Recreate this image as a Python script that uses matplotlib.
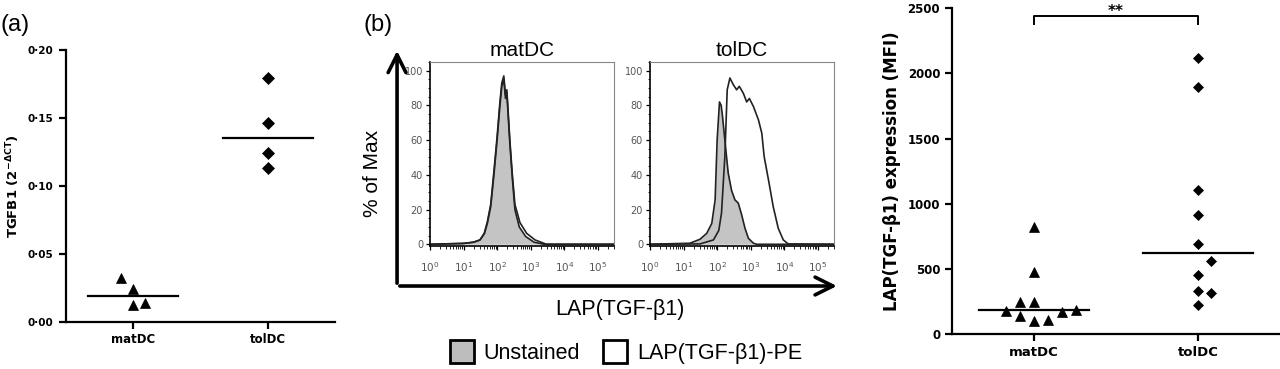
import numpy as np
import matplotlib.pyplot as plt
from matplotlib.patches import Patch, FancyArrowPatch
from matplotlib.ticker import MultipleLocator, LogLocator, NullFormatter

plt.rcParams['font.family'] = ['DejaVu Sans']
plt.rcParams['mathtext.fontset'] = 'dejavusans'

groups = ['matDC', 'tolDC']

# (a) TGFB1 mRNA (2^-dCT)
tgfb1_mat = [0.0326, 0.0243, 0.0123, 0.0142]
tgfb1_tol = [0.1796, 0.1465, 0.1240, 0.1134]
tgfb1_ticks = [0.00, 0.05, 0.10, 0.15, 0.20]
tgfb1_ticklabels = ['0·00', '0·05', '0·10', '0·15', '0·20']

# (b) flow histograms: log10 intensity vs % of max
mat_unst_x = [0.0, 1.0, 1.3, 1.49, 1.62, 1.71, 1.81, 1.91, 2.0, 2.08, 2.14, 2.2, 2.25, 2.29, 2.38, 2.45, 2.53, 2.66, 2.85, 3.1, 3.4, 5.5]
mat_unst_y = [0, 0.5, 1.2, 2.5, 6, 12, 21.7, 41, 60, 79, 91, 95, 84, 87, 58, 39, 20, 10, 4.5, 1.2, 0, 0]
mat_pe_x = [0.0, 1.0, 1.3, 1.49, 1.62, 1.71, 1.81, 1.91, 2.0, 2.08, 2.14, 2.2, 2.25, 2.29, 2.38, 2.45, 2.53, 2.68, 2.88, 3.13, 3.47, 5.5]
mat_pe_y = [0, 0.5, 1.2, 2.5, 6.5, 13, 23, 43, 62, 81, 93, 97, 86, 89, 60, 41, 23, 12.5, 6.3, 2.5, 0, 0]
tol_unst_x = [0.0, 1.19, 1.49, 1.69, 1.84, 1.94, 2.0, 2.07, 2.12, 2.16, 2.23, 2.33, 2.43, 2.53, 2.63, 2.73, 2.83, 2.93, 3.08, 3.18, 5.5]
tol_unst_y = [0, 0.6, 2.9, 6.3, 12, 25.6, 60, 82, 80, 73.7, 60, 41, 31, 25.6, 23.7, 17, 9.2, 3.5, 0.6, 0, 0]
tol_pe_x = [0.0, 1.49, 1.89, 2.05, 2.13, 2.23, 2.30, 2.38, 2.48, 2.58, 2.66, 2.78, 2.88, 2.96, 3.08, 3.23, 3.33, 3.40, 3.53, 3.67, 3.82, 3.97, 4.12, 5.5]
tol_pe_y = [0, 0.2, 2.5, 8, 18, 50.6, 89, 95.8, 92, 89, 91, 87, 82, 84, 79.4, 71.7, 64, 50.6, 37, 21.7, 9.2, 2.5, 0.2, 0]

# (c) LAP(TGF-b1) MFI
lap_mat = [818, 478, 243, 243, 174, 135, 102, 110, 169, 187]
lap_tol = [2122, 1899, 1107, 910, 693, 557, 455, 327, 314, 225]

# horizontal spread of the dots (as drawn)
tgfb1_mat_dx = [-0.087, 0, 0, 0.087]
tgfb1_tol_dx = [0, 0, 0, 0]
lap_mat_dx = [0, 0, -0.087, 0, -0.173, -0.087, 0, 0.085, 0.173, 0.254]
lap_tol_dx = [0, 0, 0, 0, 0, 0.081, 0, 0, 0.081, 0]

fig = plt.figure(figsize=(12.8, 3.69), dpi=100)


def dot_panel(ax, mat, tol, mat_dx, tol_dx, ms_tri, ms_dia):
    ax.plot(np.array(mat_dx), mat, '^', color='black', ms=ms_tri, mew=0.5, clip_on=False)
    ax.plot(1 + np.array(tol_dx), tol, 'D', color='black', ms=ms_dia, mew=0.5, clip_on=False)
    for i, vals in enumerate([mat, tol]):
        m = np.median(vals)
        ax.plot([i - 0.335, i + 0.335], [m, m], color='black', lw=1.6)
    ax.set_xlim(-0.5, 1.5)
    ax.set_xticks([0, 1])
    ax.set_xticklabels(groups, fontweight='bold')
    for s in ['top', 'right']:
        ax.spines[s].set_visible(False)
    for s in ['left', 'bottom']:
        ax.spines[s].set_linewidth(1.6)
    ax.tick_params(width=1.6, length=5)


# panel (a)
ax1 = fig.add_axes([0.0512, 0.1274, 0.2109, 0.737])
dot_panel(ax1, tgfb1_mat, tgfb1_tol, tgfb1_mat_dx, tgfb1_tol_dx, 7.5, 5.7)
ax1.set_ylim(0, 0.2)
ax1.set_yticks(tgfb1_ticks)
ax1.set_yticklabels(tgfb1_ticklabels, fontweight='bold', fontsize=7.5)
ax1.tick_params(axis='x', labelsize=8.5, pad=3)
ax1.set_ylabel(r'TGFB1 (2$^{\mathbf{-\Delta CT}}$)', fontweight='bold', fontsize=9.5, labelpad=4)
fig.text(0.0, 0.932, '(a)', fontsize=17, family='Liberation Sans', va='center')

# panel (b) histograms
hist_sets = [
    ('matDC', mat_unst_x, mat_unst_y, mat_pe_x, mat_pe_y, 0.3359),
    ('tolDC', tol_unst_x, tol_unst_y, tol_pe_x, tol_pe_y, 0.5078),
]
for title, ux, uy, px, py, left in hist_sets:
    ax = fig.add_axes([left, 0.3333, 0.14375, 0.4986])
    ax.fill_between(10 ** np.array(ux), uy, color='#c4c4c4', lw=0)
    ax.plot(10 ** np.array(ux), uy, color='#222222', lw=1.2)
    ax.plot(10 ** np.array(px), py, color='#222222', lw=1.2)
    ax.set_xscale('log')
    ax.set_xlim(1, 10 ** 5.48)
    ax.set_ylim(-1, 105)
    ax.set_xticks([10 ** k for k in range(6)])
    ax.set_xticklabels([r'$10^{%d}$' % k for k in range(6)])
    ax.xaxis.set_minor_locator(LogLocator(base=10, subs=np.arange(2, 10), numticks=20))
    ax.xaxis.set_minor_formatter(NullFormatter())
    ax.set_yticks([0, 20, 40, 60, 80, 100])
    ax.yaxis.set_minor_locator(MultipleLocator(5))
    ax.tick_params(which='major', length=3, width=0.9, labelsize=7, labelcolor='#555555', pad=2)
    ax.tick_params(axis='x', which='major', labelsize=7.5, pad=7)
    ax.tick_params(which='minor', length=1.8, width=0.6)
    for s in ['top', 'right']:
        ax.spines[s].set_color('#888888')
        ax.spines[s].set_linewidth(0.8)
    for s in ['left', 'bottom']:
        ax.spines[s].set_linewidth(1.2)
    ax.set_title(title, fontsize=15, family='Liberation Sans', pad=4)

fig.text(0.2836, 0.932, '(b)', fontsize=17, family='Liberation Sans', va='center')
fig.text(0.2914, 0.531, '% of Max', rotation=90, fontsize=15, family='Liberation Sans',
         ha='center', va='center')
fig.text(0.4844, 0.16, 'LAP(TGF-β1)', fontsize=15.5, family='Liberation Sans',
         ha='center', va='center')
fig.add_artist(FancyArrowPatch((0.3102, 0.2249), (0.3102, 0.87), transform=fig.transFigure,
                               arrowstyle='->', mutation_scale=32, lw=2.6, color='black'))
fig.add_artist(FancyArrowPatch((0.3102, 0.2249), (0.656, 0.2249), transform=fig.transFigure,
                               arrowstyle='->', mutation_scale=32, lw=2.6, color='black'))
handles = [Patch(facecolor='#bdbdbd', edgecolor='black', lw=2),
           Patch(facecolor='white', edgecolor='black', lw=2)]
fig.legend(handles, ['Unstained', 'LAP(TGF-β1)-PE'], loc='center', bbox_to_anchor=(0.489, 0.046),
           ncol=2, frameon=False, prop={'family': 'Liberation Sans', 'size': 15.5},
           handlelength=1.1, handleheight=1.25, handletextpad=0.45, columnspacing=1.1)

# panel (c) LAP MFI
ax3 = fig.add_axes([0.74375, 0.0949, 0.25625, 0.8827])
dot_panel(ax3, lap_mat, lap_tol, lap_mat_dx, lap_tol_dx, 7, 5.4)
ax3.set_ylim(0, 2500)
ax3.set_yticks([0, 500, 1000, 1500, 2000, 2500])
ax3.set_yticklabels(ax3.get_yticks().astype(int), fontweight='bold', fontsize=8.5)
ax3.tick_params(axis='x', labelsize=9.5, pad=4)
ax3.set_ylabel('LAP(TGF-β1) expression (MFI)', fontweight='bold', fontsize=12, labelpad=5)
ax3.plot([0, 0, 1, 1], [2380, 2440, 2440, 2380], color='black', lw=1.4, clip_on=False)
ax3.text(0.5, 2535, '**', ha='center', va='top', fontweight='bold', fontsize=11)

fig.savefig('out.png', dpi=100)
